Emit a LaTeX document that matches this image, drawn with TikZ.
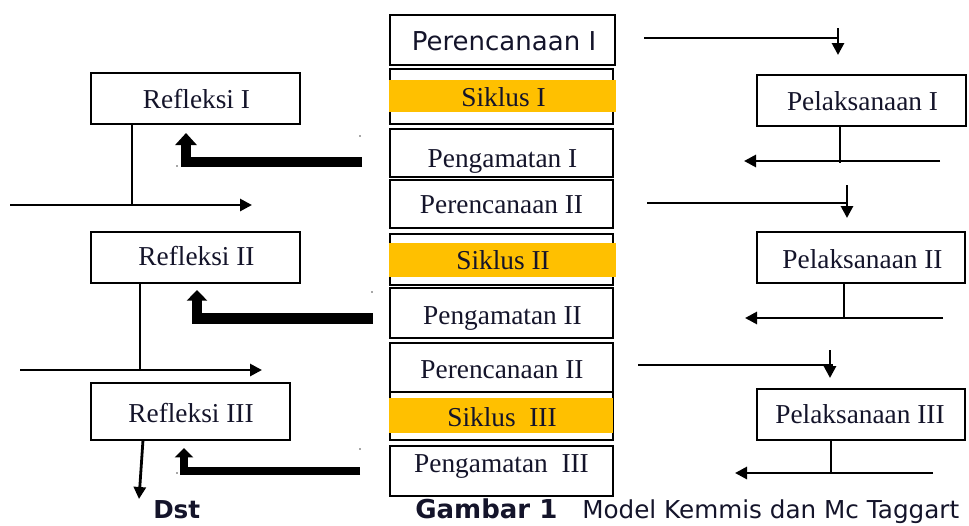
\documentclass[tikz,border=0pt]{standalone}
\usepackage{fontspec}
\setmainfont{Liberation Serif}
\newfontfamily\sansfam{DejaVu Sans}
\usetikzlibrary{arrows.meta,fit}
\definecolor{ink}{HTML}{14142A}
\definecolor{band}{HTML}{FFC000}
\begin{document}
\begin{tikzpicture}[x=0.75pt,y=-0.75pt,
  mid/.style={draw=black, line width=1.8pt, inner sep=0pt},
  side/.style={draw=black, line width=1.3pt, inner sep=0pt},
  lbl/.style={anchor=base, inner sep=0pt, text=ink, font=\fontsize{20.5}{24}\selectfont},
  flow/.style={draw=black, line width=2.1pt},
  arr/.style={-{Triangle[length=9pt,width=9pt]}},
  fat/.style={draw=black, line join=miter, line cap=butt},
  speck/.style={fill=black!70}
]
\useasboundingbox (0,0) rectangle (969,525);

% ---- central column: plan / cycle / observation ----
\node[mid, fit={(390,15) (615,65)}]   (per1) {};
\node[mid, fit={(390,69) (613,124)}]  (sik1) {};
\node[mid, fit={(390,129) (613,177)}] (pen1) {};
\node[mid, fit={(390,180) (613,228)}] (per2) {};
\node[mid, fit={(390,234) (613,285)}] (sik2) {};
\node[mid, fit={(390,288) (613,338)}] (pen2) {};
\node[mid, fit={(390,343) (613,392)}] (per3) {};
\node[mid, fit={(390,392) (613,440)}] (sik3) {};
\node[mid, fit={(390,446) (613,496)}] (pen3) {};

% highlighted cycle bands
\fill[band] (389,80) rectangle (616,112);
\fill[band] (389,243) rectangle (616,277);
\fill[band] (389,398) rectangle (613,433);

\node[lbl, font=\sansfam\fontsize{19.5}{23}\selectfont] (tper1) at (504,50) {Perencanaan I};
\node[lbl] (tsik1) at (503.5,106) {Siklus I};
\node[lbl] (tpen1) at (502.5,167) {Pengamatan I};
\node[lbl] (tper2) at (501.5,213) {Perencanaan II};
\node[lbl] (tsik2) at (503,269) {Siklus II};
\node[lbl] (tpen2) at (502.5,324) {Pengamatan II};
\node[lbl] (tper3) at (502,378) {Perencanaan II};
\node[lbl] (tsik3) at (502,426) {Siklus~ III};
\node[lbl] (tpen3) at (501.5,472) {Pengamatan~ III};

% ---- left column: reflection ----
\node[side, fit={(91,73) (300,124)}]  (ref1) {};
\node[side, fit={(91,232) (300,283)}] (ref2) {};
\node[side, fit={(91,383) (290,440)}] (ref3) {};
\node[lbl] (tref1) at (196.5,108) {Refleksi I};
\node[lbl] (tref2) at (196.5,265) {Refleksi II};
\node[lbl] (tref3) at (191,422) {Refleksi III};

% ---- right column: action ----
\node[side, fit={(757,75) (966,126)}]  (pel1) {};
\node[side, fit={(757,232) (965,283)}] (pel2) {};
\node[side, fit={(757,389) (965,440)}] (pel3) {};
\node[lbl] (tpel1) at (862.5,110) {Pelaksanaan I};
\node[lbl] (tpel2) at (862.5,268) {Pelaksanaan II};
\node[lbl] (tpel3) at (860,423) {Pelaksanaan III};

% ---- right-hand connectors ----
\coordinate (ra1) at (644,38);  \coordinate (rb1) at (838,38);
\coordinate (rc1) at (838,28);  \coordinate (rd1) at (838,55);
\coordinate (re1) at (840,163);
\coordinate (rf1) at (940,161); \coordinate (rg1) at (744,161);
\draw[flow] (ra1) -- (rb1);
\draw[flow,arr] (rc1) -- (rd1);
\draw[flow] (pel1.south -| re1) -- (re1);
\draw[flow,arr] (rf1) -- (rg1);

\coordinate (ra2) at (647,203); \coordinate (rb2) at (847,203);
\coordinate (rc2) at (847,185); \coordinate (rd2) at (847,218);
\coordinate (re2) at (844,318);
\coordinate (rf2) at (943,318); \coordinate (rg2) at (745,318);
\draw[flow] (ra2) -- (rb2);
\draw[flow,arr] (rc2) -- (rd2);
\draw[flow] (pel2.south -| re2) -- (re2);
\draw[flow,arr] (rf2) -- (rg2);

\coordinate (ra3) at (638,365); \coordinate (rb3) at (833,365);
\coordinate (rc3) at (830,350); \coordinate (rd3) at (830,378);
\coordinate (re3) at (831,474);
\coordinate (rf3) at (933,473); \coordinate (rg3) at (735,473);
\draw[flow] (ra3) -- (rb3);
\draw[flow,arr] (rc3) -- (rd3);
\draw[flow] (pel3.south -| re3) -- (re3);
\draw[flow,arr] (rf3) -- (rg3);

% ---- left-hand connectors ----
\coordinate (la1) at (132,205);
\coordinate (lb1) at (10,205);  \coordinate (lc1) at (252,205);
\draw[flow] (ref1.south -| la1) -- (la1);
\draw[flow,arr] (lb1) -- (lc1);

\coordinate (la2) at (140,370);
\coordinate (lb2) at (20,370);  \coordinate (lc2) at (262,370);
\draw[flow] (ref2.south -| la2) -- (la2);
\draw[flow,arr] (lb2) -- (lc2);

\coordinate (la3) at (143,440); \coordinate (lb3) at (139,499);
\draw[flow,arr] (la3) -- (lb3);

% ---- heavy return arrows from observation to reflection ----
\coordinate (ta1) at (362,162); \coordinate (tb1) at (186,162); \coordinate (tc1) at (186,133);
\draw[fat, line width=7.5pt, -{Triangle[length=9pt,width=15.75pt]}] (ta1) -- (tb1) -- (tc1);
\coordinate (ta2) at (373,318.5); \coordinate (tb2) at (197,318.5); \coordinate (tc2) at (197,290);
\draw[fat, line width=8pt, -{Triangle[length=8pt,width=15pt]}] (ta2) -- (tb2) -- (tc2);
\coordinate (ta3) at (360,471); \coordinate (tb3) at (184,471); \coordinate (tc3) at (184,448);
\draw[fat, line width=6pt, -{Triangle[length=7pt,width=13.5pt]}] (ta3) -- (tb3) -- (tc3);

% small specks beside the heavy arrows
\fill[speck] (360,136) circle (0.9);
\fill[speck] (177,166) circle (0.9);
\fill[speck] (372,292) circle (0.9);
\fill[speck] (360,449) circle (0.9);
\fill[speck] (177,473) circle (0.9);

% ---- captions ----
\node[anchor=base west, inner sep=0pt, text=ink, font=\sansfam\bfseries\fontsize{18.5}{22}\selectfont] (dst) at (153,518.5) {Dst};
\node[anchor=base west, inner sep=0pt, text=ink, font=\sansfam\bfseries\fontsize{19.5}{23}\selectfont] (cap1) at (415,518.5) {Gambar 1};
\node[anchor=base west, inner sep=0pt, text=ink, font=\sansfam\fontsize{18.5}{22}\selectfont] (cap2) at (582,518.5) {Model Kemmis dan Mc Taggart};
\end{tikzpicture}
\end{document}
